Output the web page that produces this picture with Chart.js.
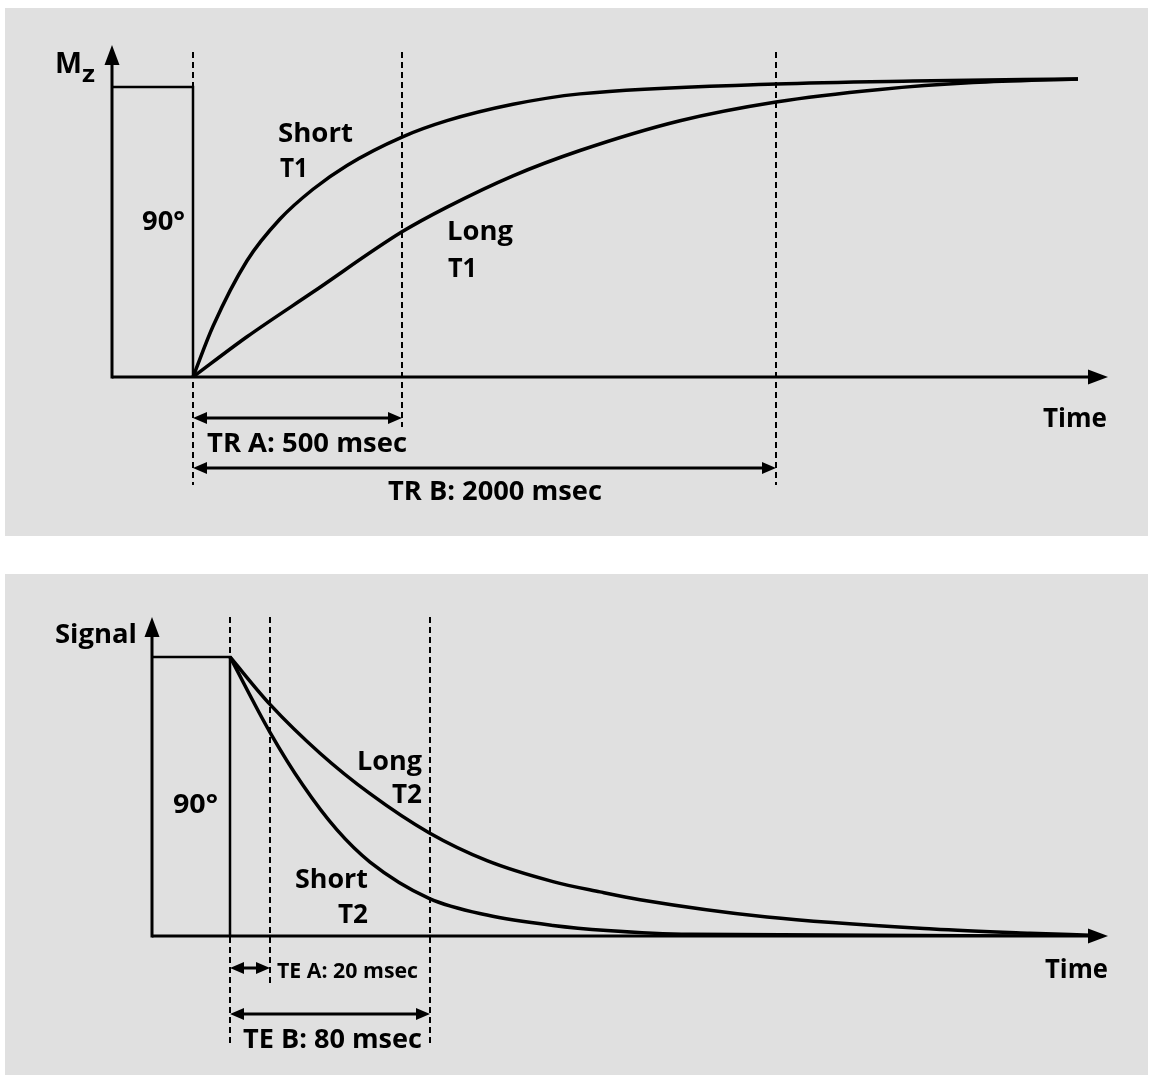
<!DOCTYPE html>
<html>
<head>
<meta charset="utf-8">
<script src="https://cdn.jsdelivr.net/npm/chart.js@4/dist/chart.umd.min.js"></script>
<style>
    body { margin: 0; background: #fff; width: 1153px; height: 1082px; position: relative; overflow: hidden; }
    .panel { position: absolute; left: 5px; width: 1143px; background: #e0e0e0; }
    #p1 { top: 8px; height: 528px; }
    #p2 { top: 574px; height: 501px; }
    canvas { display: block; }
</style>
</head>
<body>
<div class="panel" id="p1"><canvas id="t1Chart" width="1143" height="528"></canvas></div>
<div class="panel" id="p2"><canvas id="t2Chart" width="1143" height="501"></canvas></div>
<script>
// Repousse T1 (Mz en %, temps en unités du schéma, 0 = impulsion 90°)
const shortT1Time = [0, 20, 54, 87, 120, 154, 209, 254, 320, 387, 583, 720, 885];
const shortT1Mz   = [0, 17, 39, 53, 63, 71, 80.5, 86, 91.5, 95, 98.3, 99.3, 100];
const longT1Time  = [0, 54, 120, 209, 254, 320, 387, 487, 583, 687, 780, 885];
const longT1Mz    = [0, 13.5, 28.5, 48.7, 57, 67.5, 76, 86, 92.3, 96.5, 98.8, 100];
const pulseT1 = 97.3;
const trMarks = [0, 209, 583];
const trLabels = ['TR A: 500 msec', 'TR B: 2000 msec'];

// Décroissance T2 (signal en %)
const longT2Time    = [0, 40, 90, 140, 199, 257, 323, 370, 410, 537, 703, 800, 860];
const longT2Signal  = [100, 83, 65.5, 51, 37, 27, 19.5, 15.8, 13, 6.8, 2.5, 1, 0.3];
const shortT2Time   = [0, 40, 73, 107, 140, 199, 257, 323, 377, 460, 860];
const shortT2Signal = [100, 73, 54, 38, 26.5, 13.5, 7.5, 3.8, 2, 0.6, 0];
const pulseT2 = 100;
const teMarks = [0, 40, 200];
const teLabels = ['TE A: 20 msec', 'TE B: 80 msec'];

const FONT = '"Open Sans", "DejaVu Sans", sans-serif';

function toPoints(xs, ys) {
    return xs.map((x, i) => ({ x: x, y: ys[i] }));
}

function line(ctx, x1, y1, x2, y2) {
    ctx.beginPath();
    ctx.moveTo(x1, y1);
    ctx.lineTo(x2, y2);
    ctx.stroke();
}

// Pointe de flèche pleine, angle = direction de la pointe
function arrowHead(ctx, x, y, angle, len, half) {
    ctx.save();
    ctx.translate(x, y);
    ctx.rotate(angle);
    ctx.beginPath();
    ctx.moveTo(0, 0);
    ctx.lineTo(-len, -half);
    ctx.lineTo(-len, half);
    ctx.closePath();
    ctx.fill();
    ctx.restore();
}

// Texte gras, étiré/comprimé à la largeur voulue
function drawLabel(ctx, l) {
    ctx.font = 'bold ' + l.size + 'px ' + FONT;
    const w = ctx.measureText(l.text).width;
    ctx.save();
    ctx.translate(l.x, l.y);
    ctx.scale(l.w / w, 1);
    ctx.textBaseline = 'alphabetic';
    ctx.textAlign = 'left';
    ctx.fillText(l.text, 0, 0);
    ctx.restore();
}

// Axes fléchés, repères pointillés, cotes et étiquettes
const schemaPlugin = {
    id: 'schema',
    afterDatasetsDraw(chart, args, opts) {
        const { ctx, chartArea: a, scales: { x, y } } = chart;
        const y0 = y.getPixelForValue(0);
        ctx.save();
        ctx.strokeStyle = '#000';
        ctx.fillStyle = '#000';
        ctx.lineCap = 'butt';

        ctx.lineWidth = 3;
        line(ctx, a.left, y0 + 1.5, a.left, a.top + 15);
        line(ctx, a.left, y0, a.right - 15, y0);
        arrowHead(ctx, a.left, a.top, -Math.PI / 2, 20, 7.5);
        arrowHead(ctx, a.right, y0, 0, 20, 7.5);

        ctx.lineWidth = 2;
        ctx.setLineDash([6, 4]);
        opts.marks.forEach((m, i) => {
            const px = x.getPixelForValue(m);
            line(ctx, px, opts.dashTop, px, opts.dashBottom[i]);
        });
        ctx.setLineDash([]);

        ctx.lineWidth = 3;
        opts.spans.forEach(s => {
            const p1 = x.getPixelForValue(opts.marks[s.from]);
            const p2 = x.getPixelForValue(opts.marks[s.to]);
            line(ctx, p1 + 8, s.y, p2 - 8, s.y);
            arrowHead(ctx, p1, s.y, Math.PI, 14, 6);
            arrowHead(ctx, p2, s.y, 0, 14, 6);
        });

        opts.labels.forEach(l => drawLabel(ctx, l));
        ctx.restore();
    }
};

function curve(points, width) {
    return {
        data: points,
        borderColor: '#000',
        borderWidth: width,
        pointRadius: 0,
        fill: false,
        cubicInterpolationMode: 'monotone'
    };
}

function makeChart(id, datasets, xMin, xMax, yMax, padding, schema) {
    const ctx = document.getElementById(id).getContext('2d');
    return new Chart(ctx, {
        type: 'line',
        data: { datasets: datasets },
        options: {
            responsive: false,
            animation: false,
            devicePixelRatio: 1,
            layout: { padding: padding },
            scales: {
                x: { type: 'linear', min: xMin, max: xMax, display: false },
                y: { min: 0, max: yMax, display: false }
            },
            plugins: {
                legend: { display: false },
                tooltip: { enabled: false },
                schema: schema
            }
        },
        plugins: [schemaPlugin]
    });
}

// Graphique T1
makeChart('t1Chart', [
    curve(toPoints([-81, 0, 0], [pulseT1, pulseT1, 0]), 2.5),
    curve(toPoints(shortT1Time, shortT1Mz), 3.5),
    curve(toPoints(longT1Time, longT1Mz), 3.5)
], -81, 915, 111.4, { left: 107, right: 40, top: 37, bottom: 159 }, {
    marks: trMarks,
    dashTop: 44,
    dashBottom: [477, 419, 477],
    spans: [{ from: 0, to: 1, y: 410 }, { from: 0, to: 2, y: 460 }],
    labels: [
        { text: 'M', x: 50, y: 65, w: 27, size: 28 },
        { text: 'z', x: 77, y: 74, w: 13, size: 24 },
        { text: 'Short', x: 273, y: 134, w: 75, size: 27 },
        { text: 'T1', x: 275, y: 169, w: 28, size: 27 },
        { text: '90°', x: 137, y: 222, w: 43, size: 27 },
        { text: 'Long', x: 442, y: 232, w: 66, size: 27 },
        { text: 'T1', x: 443, y: 269, w: 29, size: 27 },
        { text: 'Time', x: 1038, y: 419, w: 64, size: 27 },
        { text: trLabels[0], x: 202, y: 444, w: 200, size: 27 },
        { text: trLabels[1], x: 383, y: 492, w: 214, size: 27 }
    ]
});

// Graphique T2
makeChart('t2Chart', [
    curve(toPoints([-78, 0, 0], [pulseT2, pulseT2, 0]), 2.5),
    curve(toPoints(longT2Time, longT2Signal), 3.5),
    curve(toPoints(shortT2Time, shortT2Signal), 3.5)
], -78, 878, 114.3, { left: 147, right: 40, top: 43, bottom: 139 }, {
    marks: teMarks,
    dashTop: 43,
    dashBottom: [471, 409, 471],
    spans: [{ from: 0, to: 1, y: 394 }, { from: 0, to: 2, y: 440 }],
    labels: [
        { text: 'Signal', x: 50, y: 69, w: 82, size: 27 },
        { text: '90°', x: 168, y: 239, w: 45, size: 27 },
        { text: 'Long', x: 352, y: 196, w: 65, size: 27 },
        { text: 'T2', x: 387, y: 229, w: 30, size: 27 },
        { text: 'Short', x: 290, y: 314, w: 73, size: 27 },
        { text: 'T2', x: 333, y: 349, w: 30, size: 27 },
        { text: 'Time', x: 1040, y: 404, w: 63, size: 27 },
        { text: teLabels[0], x: 272, y: 404, w: 141, size: 22 },
        { text: teLabels[1], x: 238, y: 474, w: 179, size: 27 }
    ]
});
</script>
</body>
</html>
